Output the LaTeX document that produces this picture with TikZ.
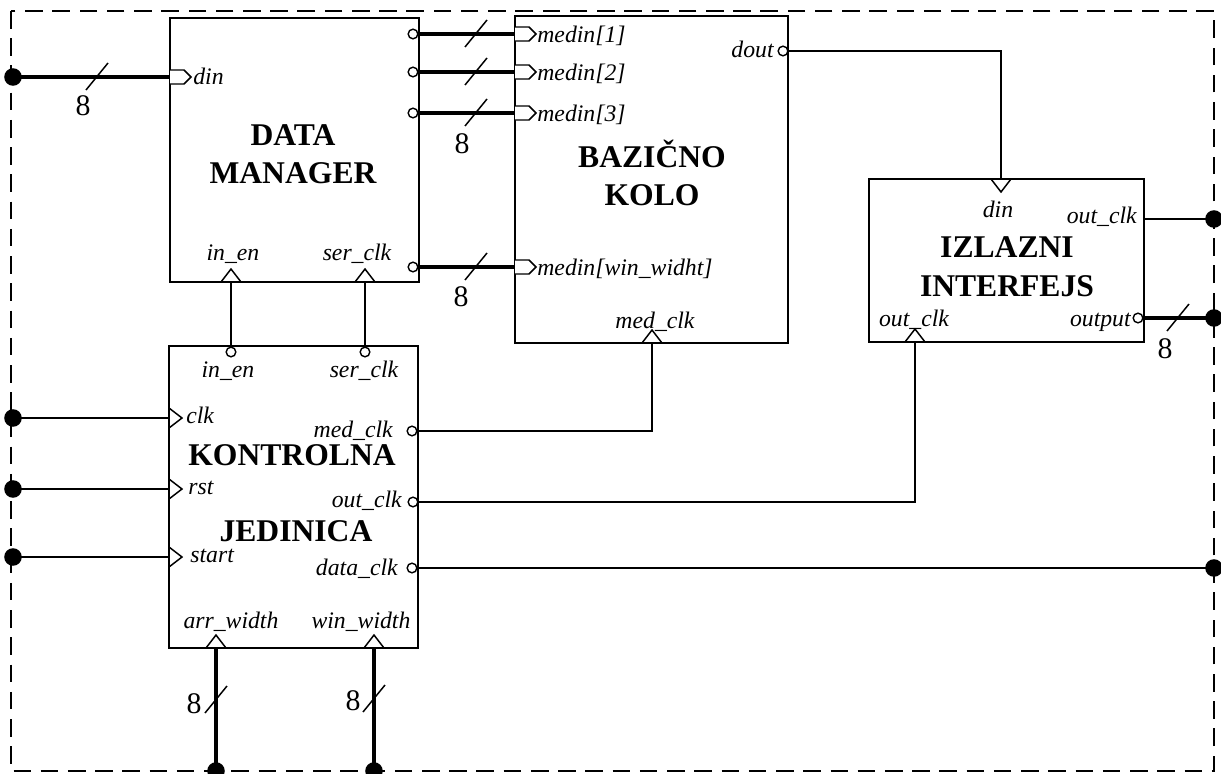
\documentclass[tikz,border=0pt]{standalone}
\usepackage{fontspec}
\setmainfont{Liberation Serif}
\usetikzlibrary{positioning, fit, calc}

\tikzset{
  blok/.style={draw, line width=0.9pt, inner sep=0pt},
  naslov/.style={font=\fontsize{18}{21}\selectfont\bfseries, anchor=base},
  pin/.style={font=\fontsize{13.5}{15}\selectfont\itshape, inner sep=0pt},
  zica/.style={line width=0.85pt},
  sab/.style={line width=2.8pt},
  tacka/.style={circle, fill, inner sep=0pt, minimum size=10pt},
  neg/.style={circle, draw, line width=0.8pt, fill=white, inner sep=0pt, minimum size=5.5pt},
  broj/.style={font=\fontsize{17}{19}\selectfont, inner sep=0pt},
}
% ulaz za magistralu, takt ulaz, trouglovi i kosa crta za sirinu
\newcommand{\busin}[1]{\draw[zica, fill=white] ($(#1)+(0,-7)$) -- ++(14,0) -- ++(7,7) -- ++(-7,7) -- ++(-14,0);}
\newcommand{\clkin}[1]{\draw[zica] ($(#1)+(0,-10)$) -- ++(13,10) -- ++(-13,10);}
\newcommand{\trigore}[1]{\draw[zica] ($(#1)+(-10,0)$) -- ++(10,-13) -- ++(10,13);}
\newcommand{\tridole}[1]{\draw[zica] ($(#1)+(-10,0)$) -- ++(10,13) -- ++(10,-13);}
\newcommand{\kosa}[1]{\draw[zica] ($(#1)+(-11,13)$) -- ($(#1)+(11,-14)$);}

\begin{document}
\begin{tikzpicture}[x=0.02cm, y=-0.02cm]
\useasboundingbox (0,0) rectangle (1221,774);
\draw[line width=1.4pt, dash pattern=on 10pt off 5.5pt] (11,11) rectangle (1214,771);

% blokovi
\node[blok, fit={(170,18) (419,282)}] (dm) {};
\node[blok, fit={(515,16) (788,343)}] (bk) {};
\node[blok, fit={(869,179) (1144,342)}] (ii) {};
\node[blok, fit={(169,346) (418,648)}] (kj) {};

\node[naslov] (dm1) at (293,145) {DATA};
\node[naslov] (dm2) at (293,183) {MANAGER};
\node[naslov] (bk1) at (652,167) {BAZIČNO};
\node[naslov] (bk2) at (652,205) {KOLO};
\node[naslov] (ii1) at (1007,257) {IZLAZNI};
\node[naslov] (ii2) at (1007,296) {INTERFEJS};
\node[naslov] (kj1) at (292,465) {KONTROLNA};
\node[naslov] (kj2) at (296,541) {JEDINICA};

% data manager -> bazicno kolo
\coordinate (dmdin) at (170,77);
\busin{dmdin}
\node[pin, anchor=base west] (ldmdin) at (193,84) {din};
\node[tacka] (tdin) at (13,77) {};
\draw[sab] (tdin.center) -- (dmdin);
\kosa{97,77}
\node[broj] (n1) at (83,106) {8};

\foreach \y/\t in {34/1, 72/2, 113/3, 267/win\_widht} {
  \node[neg] (dmo\y) at (413,\y) {};
  \coordinate (bkin\y) at (515,\y);
  \draw[sab] (dmo\y) -- (bkin\y);
  \busin{bkin\y}
  \kosa{476,\y}
  \node[pin, anchor=base west] (lmedin\y) at (537,\y+8) {medin[\t]};
}
\node[broj] (n2) at (462,144) {8};
\node[broj] (n3) at (461,297) {8};

\coordinate (dmen) at (231,282);
\trigore{dmen}
\node[pin, anchor=base] (ldmen) at (233,260) {in\_en};
\coordinate (dmclk) at (365,282);
\trigore{dmclk}
\node[pin, anchor=base] (ldmclk) at (357,260) {ser\_clk};

% bazicno kolo
\node[neg] (bkout) at (783,51) {};
\node[pin, anchor=base east] (lbkout) at (774,57) {dout};
\coordinate (bkmed) at (652,343);
\trigore{bkmed}
\node[pin, anchor=base] (lbkmed) at (655,328) {med\_clk};

% izlazni interfejs
\coordinate (iidin) at (1001,179);
\tridole{iidin}
\node[pin, anchor=base] (liidin) at (998,217) {din};
\draw[zica] (bkout) -| (iidin);
\coordinate (iiclk) at (1144,219);
\node[pin, anchor=base east] (liiclk) at (1137,223) {out\_clk};
\node[tacka] (tiiclk) at (1214,219) {};
\draw[zica] (iiclk) -- (tiiclk.center);
\coordinate (iiclkin) at (915,342);
\trigore{iiclkin}
\node[pin, anchor=base] (liiclkin) at (914,326) {out\_clk};
\node[neg] (iiout) at (1138,318) {};
\node[pin, anchor=base east] (liiout) at (1131,326) {output};
\node[tacka] (tiiout) at (1214,318) {};
\draw[sab] (iiout) -- (tiiout.center);
\kosa{1178,318}
\node[broj] (n4) at (1165,349) {8};

% kontrolna jedinica
\node[neg] (kjen) at (231,352) {};
\node[pin, anchor=base] (lkjen) at (228,377) {in\_en};
\node[neg] (kjclk) at (365,352) {};
\node[pin, anchor=base] (lkjclk) at (364,377) {ser\_clk};
\draw[zica] (kjen) -- (dmen);
\draw[zica] (kjclk) -- (dmclk);

\foreach \y/\t/\x in {418/clk/186, 489/rst/188, 557/start/190} {
  \coordinate (kj\t) at (169,\y);
  \clkin{kj\t}
  \node[pin, anchor=base west] (lkj\t) at (\x,\y+5) {\t};
  \node[tacka] (t\t) at (13,\y) {};
  \draw[zica] (t\t.center) -- (kj\t);
}

\node[neg] (kjmed) at (412,431) {};
\node[pin, anchor=base east] (lkjmed) at (393,437) {med\_clk};
\node[neg] (kjout) at (413,502) {};
\node[pin, anchor=base east] (lkjout) at (402,507) {out\_clk};
\node[neg] (kjdata) at (412,568) {};
\node[pin, anchor=base east] (lkjdata) at (398,575) {data\_clk};
\node[tacka] (tdata) at (1214,568) {};
\draw[zica] (kjmed) -| (bkmed);
\draw[zica] (kjout) -| (iiclkin);
\draw[zica] (kjdata) -- (tdata.center);

\coordinate (kjarr) at (216,648);
\trigore{kjarr}
\node[pin, anchor=base] (lkjarr) at (231,628) {arr\_width};
\coordinate (kjwin) at (374,648);
\trigore{kjwin}
\node[pin, anchor=base] (lkjwin) at (361,628) {win\_width};
\node[tacka] (tarr) at (216,771) {};
\node[tacka] (twin) at (374,771) {};
\draw[sab] (kjarr) -- (tarr.center);
\draw[sab] (kjwin) -- (twin.center);
\kosa{216,700}
\kosa{374,699}
\node[broj] (n5) at (194,704) {8};
\node[broj] (n6) at (353,701) {8};
\end{tikzpicture}
\end{document}
